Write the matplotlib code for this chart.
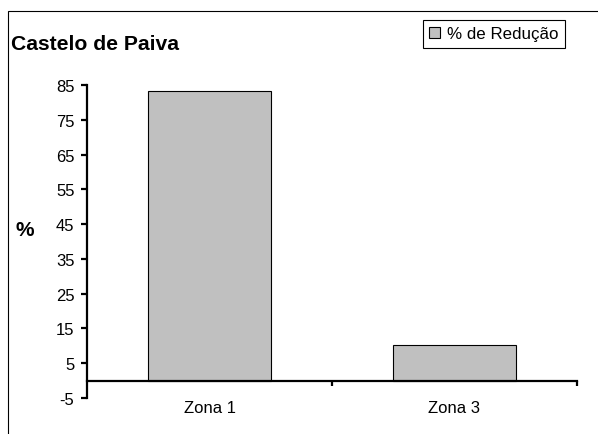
import matplotlib
matplotlib.use('Agg')
import matplotlib.pyplot as plt
from matplotlib.patches import Rectangle

zones = ['Zona 1', 'Zona 3']
reducao = [83.4, 10.3]
y_ticks = [-5, 5, 15, 25, 35, 45, 55, 65, 75, 85]

plt.rcParams['font.family'] = ['Liberation Sans', 'DejaVu Sans']
plt.rcParams['axes.unicode_minus'] = False

fig = plt.figure(figsize=(5.98, 4.35), dpi=100)
ax = fig.add_axes([87 / 598, 1 - 399 / 435, 490 / 598, 313 / 435])

x = list(range(len(zones)))
ax.bar(x, reducao, width=0.5, color='#C0C0C0', edgecolor='black',
       linewidth=0.8, label='% de Redução', zorder=2)

ax.set_xlim(-0.5, len(zones) - 0.5)
ax.set_ylim(-5, 85)

# excel style axes: y axis on the left, category axis crossing at 0
for side in ['top', 'right']:
    ax.spines[side].set_visible(False)
ax.spines['left'].set_linewidth(1.6)
ax.spines['bottom'].set_linewidth(1.6)
ax.spines['bottom'].set_position(('data', 0))
ax.spines['bottom'].set_zorder(3)

ax.set_yticks(y_ticks)
ax.tick_params(axis='y', direction='out', length=4.5, width=1.6,
               labelsize=12, pad=4.5)

# major ticks at category boundaries, labels on minor ticks at centres
ax.set_xticks([i + 0.5 for i in x])
ax.tick_params(axis='x', which='major', direction='out', length=3.5,
               width=1.6, labelbottom=False)
ax.set_xticks(x, minor=True)
ax.set_xticklabels(zones, minor=True)
ax.tick_params(axis='x', which='minor', length=0, labelsize=12, pad=14)

fig.text(11 / 598, 1 - 50 / 435, 'Castelo de Paiva', fontsize=15.2,
         fontweight='bold', ha='left', va='baseline')
fig.text(25 / 598, 1 - 231 / 435, '%', fontsize=15, fontweight='bold',
         ha='center', va='center')

fig.legend(loc='upper left', bbox_to_anchor=(423 / 598, 1 - 21 / 435),
           fontsize=12.2, frameon=True, fancybox=False, edgecolor='black',
           framealpha=1, handlelength=0.6, handleheight=0.6,
           handletextpad=0.45, borderpad=0.38, borderaxespad=0)
fig.legends[0].get_frame().set_linewidth(0.8)

# outer chart frame (cut at the right and bottom edges)
fig.patches.append(Rectangle((8 / 598, -0.1), 1.2, 1 - 12 / 435 + 0.1,
                             transform=fig.transFigure, fill=False,
                             edgecolor='black', linewidth=0.8))

fig.savefig('out.png', dpi=100)
